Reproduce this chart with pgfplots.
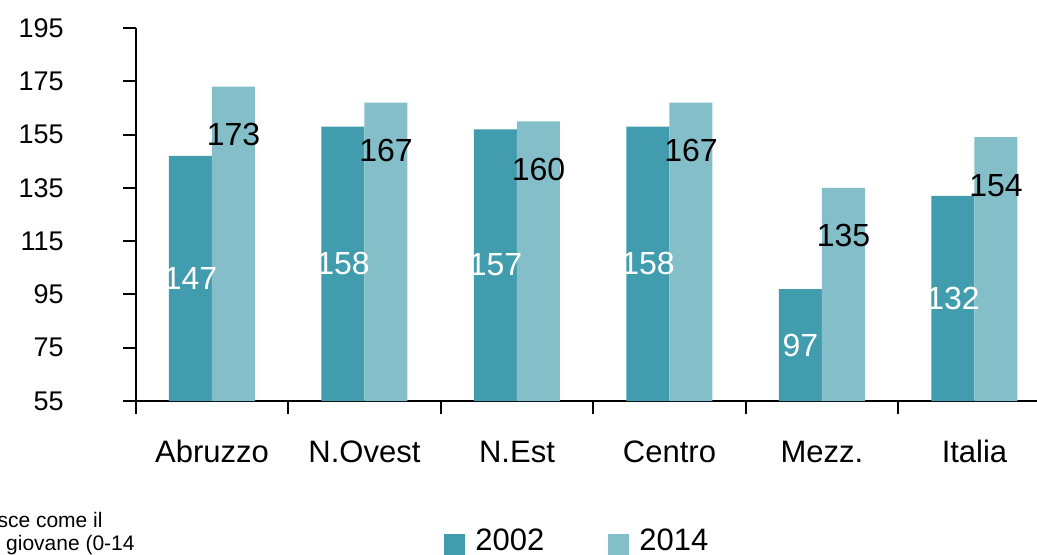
\documentclass[border=0pt]{standalone}
\usepackage{fontspec}
\setmainfont{Liberation Sans}
\usepackage{pgfplots}
\pgfplotsset{compat=1.18}

\definecolor{c2002}{HTML}{419DAE}
\definecolor{c2014}{HTML}{84BFC9}

\begin{document}
\begin{tikzpicture}
\begin{axis}[
  at={(67.85pt,76.5pt)}, anchor=south west,
  scale only axis, width=450.65pt, height=186.5pt,
  xmin=-0.5, xmax=5.41, ymin=55, ymax=195,
  axis x line=bottom, axis y line=left,
  axis line style={-, line width=1pt, black},
  ytick={55,75,...,195},
  tick align=outside, major tick length=6.5pt,
  tick style={line width=1pt, black},
  /pgf/number format/assume math mode=true,
  yticklabel style={font=\fontsize{13.5}{16}\selectfont, xshift=-26pt},
  xtick={-0.5,0.5,...,5.5}, xticklabels={},
  extra x ticks={0,1,2,3,4,5},
  extra x tick labels={Abruzzo,N.Ovest,N.Est,Centro,Mezz.,Italia},
  extra x tick style={major tick length=0pt,
    tick label style={font=\fontsize{15.5}{18}\selectfont, yshift=-16pt,
      text height=11pt, text depth=3pt}},
  ybar, bar width=21.5pt,
  legend style={at={(axis description cs:0.342,-0.375)}, anchor=west,
    draw=none, fill=none, inner sep=0pt,
    font=\fontsize{15.5}{18}\selectfont, legend columns=2,
    /tikz/every even column/.append style={column sep=30pt}},
]
\addplot[fill=c2002, draw=none, bar shift=-10.75pt,
  legend image code/.code={\fill[c2002] (0pt,-7.25pt) rectangle (10.5pt,3.25pt);
    \path (13.5pt,0pt);},
  nodes near coords, visualization depends on={rawy \as \ry},
  every node near coord/.append style={anchor=center, text=white,
    font=\fontsize{16}{18}\selectfont, yshift={-0.666*(\ry-55)}}]
  coordinates {(0,147)(1,158)(2,157)(3,158)(4,97)(5,132)};
\addlegendentry{2002}
\addplot[fill=c2014, draw=none, bar shift=10.75pt,
  legend image code/.code={\fill[c2014] (0pt,-7.25pt) rectangle (10.5pt,3.25pt);
    \path (13.5pt,0pt);},
  nodes near coords,
  every node near coord/.append style={anchor=center, text=black,
    font=\fontsize{16}{18}\selectfont, yshift=-24pt}]
  coordinates {(0,173)(1,167)(2,160)(3,167)(4,135)(5,154)};
\addlegendentry{2014}
\end{axis}
\node[anchor=base east, inner sep=0pt, font=\fontsize{10.5}{12}\selectfont] at (51.5pt,13.5pt) {sce come il};
\node[anchor=base east, inner sep=0pt, font=\fontsize{10.5}{12}\selectfont] at (67.5pt,2pt) {giovane (0-14};
\pgfresetboundingbox
\path[use as bounding box] (0pt,0pt) rectangle (518.5pt,277pt);
\end{tikzpicture}
\end{document}
